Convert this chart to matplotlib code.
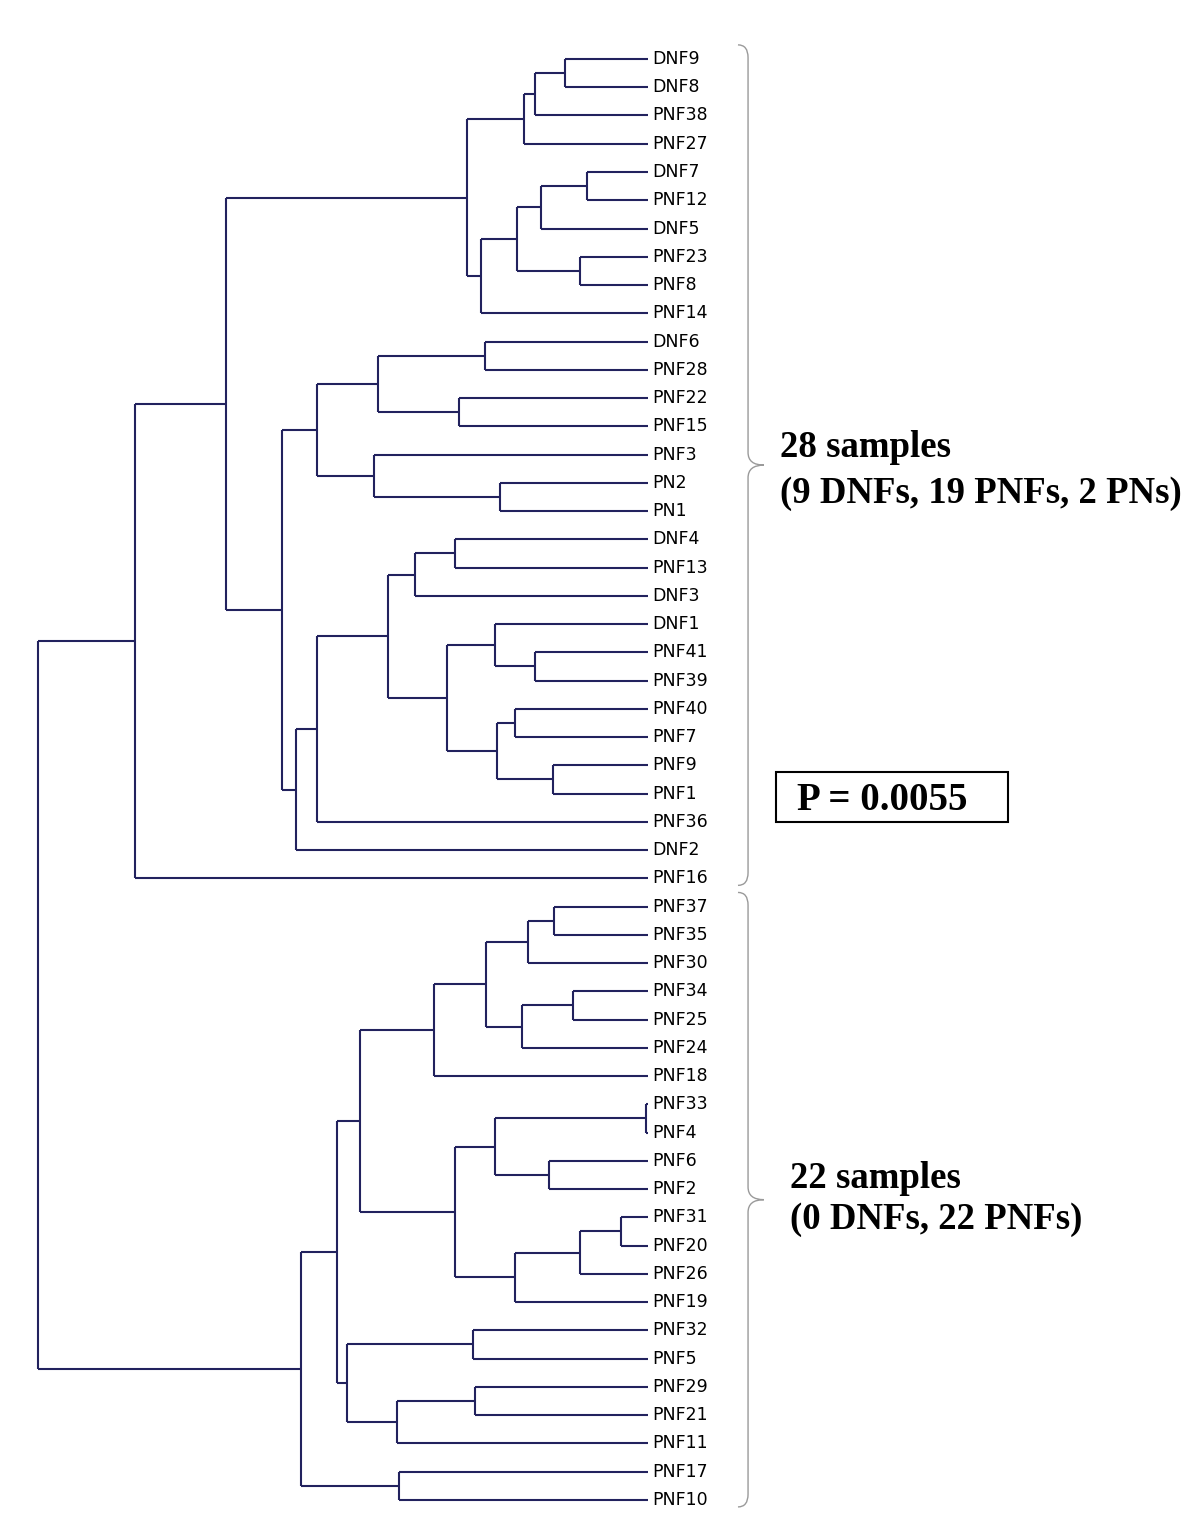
import numpy as np
import matplotlib
matplotlib.use('Agg')
import matplotlib.pyplot as plt
from matplotlib.path import Path
from matplotlib.patches import PathPatch, Rectangle

# leaf order, top to bottom
leaves = ['DNF9', 'DNF8', 'PNF38', 'PNF27', 'DNF7', 'PNF12', 'DNF5', 'PNF23', 'PNF8', 'PNF14',
          'DNF6', 'PNF28', 'PNF22', 'PNF15', 'PNF3', 'PN2', 'PN1', 'DNF4', 'PNF13', 'DNF3',
          'DNF1', 'PNF41', 'PNF39', 'PNF40', 'PNF7', 'PNF9', 'PNF1', 'PNF36', 'DNF2', 'PNF16',
          'PNF37', 'PNF35', 'PNF30', 'PNF34', 'PNF25', 'PNF24', 'PNF18', 'PNF33', 'PNF4', 'PNF6',
          'PNF2', 'PNF31', 'PNF20', 'PNF26', 'PNF19', 'PNF32', 'PNF5', 'PNF29', 'PNF21', 'PNF11',
          'PNF17', 'PNF10']

# merges: ids < 52 are leaves, id 52+k is merge k (scipy style)
merge_left = [0, 52, 53, 4, 55, 7, 56, 58, 54, 10, 12, 61, 15, 14, 63, 17, 67, 21, 20, 23,
              25, 71, 70, 68, 75, 76, 66, 60, 79,
              30, 81, 33, 83, 82, 85, 37, 39, 87, 41, 90, 91, 89, 86, 45, 47, 96, 95, 94, 50, 99,
              80]
merge_right = [1, 2, 3, 5, 6, 8, 57, 9, 59, 11, 13, 62, 16, 64, 65, 18, 19, 22, 69, 24,
               26, 72, 73, 74, 27, 28, 77, 78, 29,
               31, 32, 34, 35, 84, 36, 38, 40, 88, 42, 43, 44, 92, 93, 46, 48, 49, 97, 98, 51, 100,
               101]
merge_height = [0.136, 0.185, 0.203, 0.100, 0.175, 0.111, 0.215, 0.274, 0.297, 0.267,
                0.310, 0.443, 0.243, 0.449, 0.543, 0.316, 0.382, 0.185, 0.251, 0.218,
                0.156, 0.248, 0.330, 0.426, 0.543, 0.577, 0.600, 0.692, 0.841,
                0.154, 0.197, 0.123, 0.207, 0.266, 0.351, 0.003, 0.162, 0.251, 0.044, 0.111,
                0.218, 0.316, 0.472, 0.287, 0.284, 0.411, 0.493, 0.510, 0.408, 0.569,
                1.0]

# groups marked by braces (first leaf, last leaf)
groups = [(0, 29), (30, 51)]
group_text = ['28 samples\n(9 DNFs, 19 PNFs, 2 PNs)', '22 samples\n(0 DNFs, 22 PNFs)']
p_text = 'P = 0.0055'

LINE = '#22225e'
n = len(leaves)

fig = plt.figure(figsize=(12, 15.38), dpi=100)
ax = fig.add_axes([0, 0, 1, 1])
ax.set_xlim(1.0623, -0.9049)
ax.set_ylim(52.35, -2.088)
ax.axis('off')

# node positions
pos_x = {i: 0.0 for i in range(n)}
pos_y = {i: float(i) for i in range(n)}
for k, (a, b, h) in enumerate(zip(merge_left, merge_right, merge_height)):
    node = n + k
    pos_x[node] = h
    pos_y[node] = (pos_y[a] + pos_y[b]) / 2
    ax.plot([h, h], [pos_y[a], pos_y[b]], color=LINE, lw=1.5, solid_capstyle='butt')
    for c in (a, b):
        ax.plot([h, pos_x[c]], [pos_y[c], pos_y[c]], color=LINE, lw=1.5, solid_capstyle='butt')

# leaf labels
for i, name in enumerate(leaves):
    ax.annotate(name, (0, i), xytext=(3, 0), textcoords='offset points',
                va='center', ha='left', fontsize=12.5, family='DejaVu Sans', color='black')

# curly braces
def brace(y0, y1, x0=-0.1475, x1=-0.164, x2=-0.190, d=0.45):
    ym = (y0 + y1) / 2
    verts = [(x0, y0), (x1, y0), (x1, y0 + d),
             (x1, ym - d), (x1, ym), (x2, ym),
             (x1, ym), (x1, ym + d),
             (x1, y1 - d), (x1, y1), (x0, y1)]
    codes = [Path.MOVETO, Path.CURVE3, Path.CURVE3,
             Path.LINETO, Path.CURVE3, Path.CURVE3,
             Path.CURVE3, Path.CURVE3,
             Path.LINETO, Path.CURVE3, Path.CURVE3]
    ax.add_patch(PathPatch(Path(verts, codes), fill=False, edgecolor='#9a9a9a', lw=1.0))

for g0, g1 in groups:
    brace(g0 - 0.5, g1 + 0.25)

# group annotations
fig.text(780 / 1200, 1 - 457 / 1538, group_text[0].split('\n')[0], fontsize=26.5,
         family='Liberation Serif', weight='bold', va='baseline')
fig.text(780 / 1200, 1 - 503 / 1538, group_text[0].split('\n')[1], fontsize=26.5,
         family='Liberation Serif', weight='bold', va='baseline')
fig.text(790 / 1200, 1 - 1188 / 1538, group_text[1].split('\n')[0], fontsize=26.5,
         family='Liberation Serif', weight='bold', va='baseline')
fig.text(790 / 1200, 1 - 1229 / 1538, group_text[1].split('\n')[1], fontsize=26.5,
         family='Liberation Serif', weight='bold', va='baseline')

# p-value box
fig.patches.append(Rectangle((776 / 1200, 1 - 822 / 1538), 232 / 1200, 50 / 1538,
                             transform=fig.transFigure, fill=False, edgecolor='black', lw=1.5))
fig.text(797 / 1200, 1 - 810 / 1538, p_text, fontsize=28,
         family='Liberation Serif', weight='bold', va='baseline')

plt.savefig('out.png', dpi=100, facecolor='white')
